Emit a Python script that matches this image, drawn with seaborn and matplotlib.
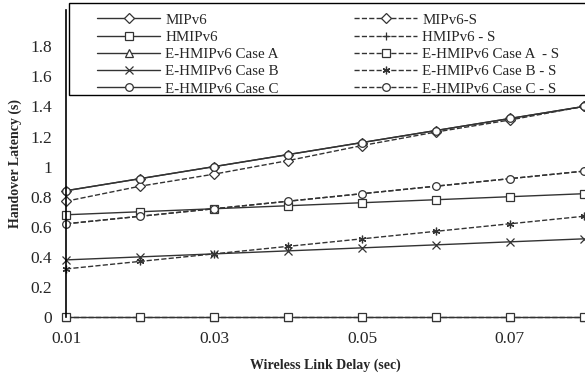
import matplotlib
matplotlib.use("Agg")
import matplotlib.pyplot as plt
import matplotlib.patches as mpatches
import seaborn as sns
import pandas as pd

delay = [0.01, 0.02, 0.03, 0.04, 0.05, 0.06, 0.07, 0.08]
mipv6 = [0.84, 0.92, 1.00, 1.08, 1.16, 1.24, 1.32, 1.40]
mipv6_s = [0.77, 0.87, 0.95, 1.04, 1.14, 1.23, 1.31, 1.40]
hmipv6 = [0.68, 0.70, 0.72, 0.74, 0.76, 0.78, 0.80, 0.82]
hmipv6_s = [0.62, 0.67, 0.72, 0.77, 0.82, 0.87, 0.92, 0.97]
case_a = [0, 0, 0, 0, 0, 0, 0, 0]
case_a_s = [0, 0, 0, 0, 0, 0, 0, 0]
case_b = [0.38, 0.40, 0.42, 0.44, 0.46, 0.48, 0.50, 0.52]
case_b_s = [0.32, 0.37, 0.42, 0.47, 0.52, 0.57, 0.62, 0.67]
case_c = [0.84, 0.92, 1.00, 1.08, 1.16, 1.24, 1.32, 1.40]
case_c_s = [0.62, 0.67, 0.72, 0.77, 0.82, 0.87, 0.92, 0.97]

y_ticks = [0, 0.2, 0.4, 0.6, 0.8, 1.0, 1.2, 1.4, 1.6, 1.8]
y_tick_labels = ["0", "0.2", "0.4", "0.6", "0.8", "1", "1.2", "1.4", "1.6", "1.8"]
x_ticks = [0.01, 0.03, 0.05, 0.07]
x_tick_labels = ["0.01", "0.03", "0.05", "0.07"]

sns.set_style("white")
plt.rcParams['font.family'] = ['Liberation Serif', 'DejaVu Serif']

series = [
    ("MIPv6", mipv6, "-", "D"),
    ("MIPv6-S", mipv6_s, "--", "D"),
    ("HMIPv6", hmipv6, "-", "s"),
    ("HMIPv6 - S", hmipv6_s, "--", "+"),
    ("E-HMIPv6 Case A", case_a, "-", "^"),
    ("E-HMIPv6 Case A  - S", case_a_s, "--", "s"),
    ("E-HMIPv6 Case B", case_b, "-", "x"),
    ("E-HMIPv6 Case B - S", case_b_s, "--", (6, 2, 0)),
    ("E-HMIPv6 Case C", case_c, "-", "o"),
    ("E-HMIPv6 Case C - S", case_c_s, "--", "o"),
]

fig = plt.figure(figsize=(5.85, 3.77), dpi=100)
ax = fig.add_axes([0.113, 0.159, 0.885, 0.814])

col = "#333333"
for name, vals, ls, mk in series:
    df = pd.DataFrame({"x": delay, "y": vals})
    filled = mk in ("D", "s", "^", "o")
    sns.lineplot(data=df, x="x", y="y", ax=ax, color=col, linestyle=ls,
                 linewidth=1.0, marker=mk, markersize=5.5 if mk != "D" else 5,
                 markerfacecolor="white" if filled else col,
                 markeredgecolor=col, markeredgewidth=0.9,
                 label=name, clip_on=False)

# legend frame drawn as a box across the top of the plot
frame = mpatches.Rectangle((0.006, 0.723), 1.1, 0.3, transform=ax.transAxes,
                           fill=True, facecolor="white", edgecolor="black",
                           linewidth=1.0, clip_on=False, zorder=5)
ax.add_patch(frame)

handles, labels = ax.get_legend_handles_labels()
order = [0, 2, 4, 6, 8, 1, 3, 5, 7, 9]
leg = ax.legend([handles[i] for i in order], [labels[i] for i in order],
                ncol=2, loc="upper left", bbox_to_anchor=(0.06, 0.99),
                fontsize=10.8, frameon=False,
                handlelength=4.2, labelspacing=0.25, borderpad=0.0,
                handletextpad=0.35, columnspacing=5.0, borderaxespad=0.0)
leg.set_zorder(6)

ax.set_xlim(0.01, 0.08)
ax.set_ylim(0, 2.04)
ax.set_xticks(x_ticks)
ax.set_xticklabels(x_tick_labels, fontsize=12.5)
ax.set_yticks(y_ticks)
ax.set_yticklabels(y_tick_labels, fontsize=12.5)
ax.set_xlabel("Wireless Link Delay (sec)", fontsize=10, fontweight="bold", labelpad=8)
ax.set_ylabel("Handover Latency (s)", fontsize=10, fontweight="bold", labelpad=6)

for s in ["top", "right"]:
    ax.spines[s].set_visible(False)
ax.spines["bottom"].set_visible(False)
ax.spines["left"].set_color("black")
ax.spines["left"].set_linewidth(1.2)
ax.tick_params(axis="y", direction="out", length=4, width=1.2, color="black", pad=6)
ax.tick_params(axis="x", length=0, pad=10)

fig.savefig("out.png", dpi=100)
